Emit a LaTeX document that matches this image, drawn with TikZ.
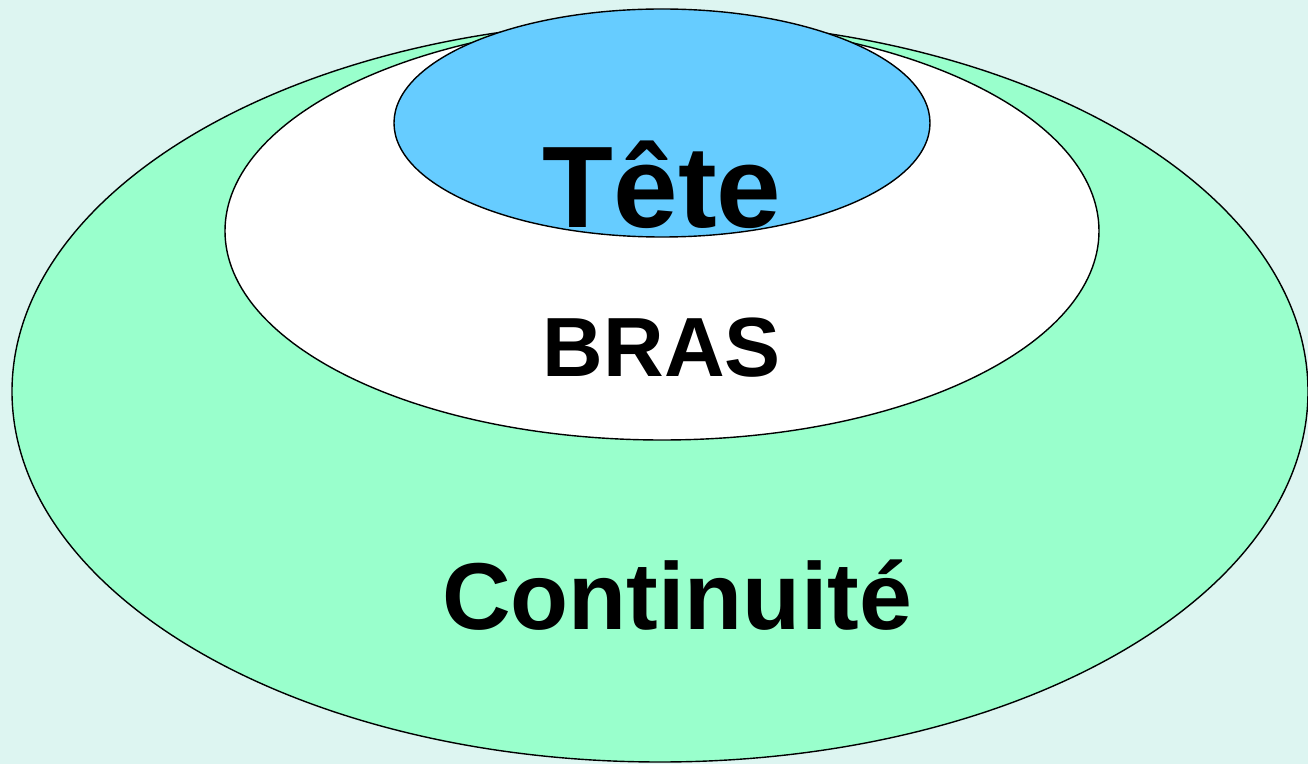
\documentclass[tikz,border=0pt]{standalone}
\usepackage{fontspec}
\setmainfont{Liberation Sans}
\definecolor{bgcol}{HTML}{DDF5F1}
\definecolor{greencol}{HTML}{99FFCC}
\definecolor{bluecol}{HTML}{66CCFF}
\tikzset{
  layer/.style={draw=black, line width=0.7pt},
  lbl/.style={font=\bfseries, text=black, anchor=base, inner sep=0pt}
}
\begin{document}
\begin{tikzpicture}[x=0.5pt,y=-0.5pt]
\fill[bgcol] (0,0) rectangle (1308,764);
\useasboundingbox (0,0) rectangle (1308,764);
\begin{scope}
\clip (0,0) rectangle (1308,764);
\draw[layer, fill=greencol] (660,391.5) ellipse [x radius=324pt, y radius=185.25pt];
\draw[layer, fill=white] (662,231) ellipse [x radius=218.5pt, y radius=104.5pt];
\draw[layer, fill=bluecol] (662,123) ellipse [x radius=134pt, y radius=57pt];
\end{scope}
\node[lbl, font=\fontsize{58}{60}\selectfont\bfseries] (tete) at (662,228) {Tête};
\node[lbl, font=\fontsize{42}{44}\selectfont\bfseries] (bras) at (662,377) {BRAS};
\node[lbl, font=\fontsize{47.5}{50}\selectfont\bfseries] (cont) at (677,630) {Continuité};
\end{tikzpicture}
\end{document}
